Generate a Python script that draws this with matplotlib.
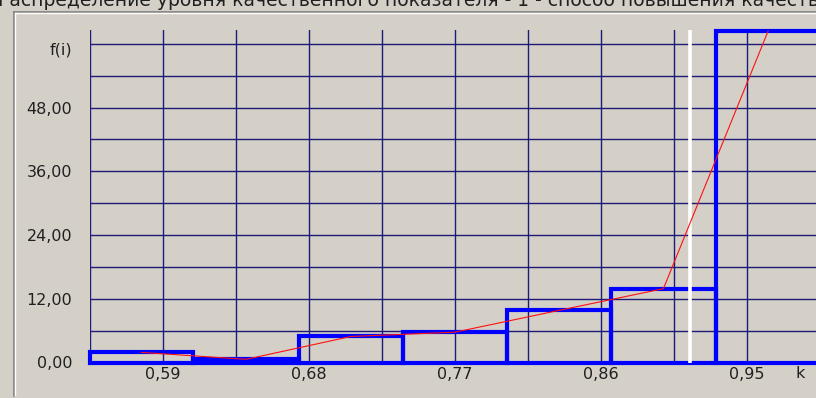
import matplotlib
matplotlib.use("Agg")
import matplotlib.pyplot as plt
from matplotlib.lines import Line2D
import numpy as np

# data
bin_edges = [0.545, 0.609, 0.674, 0.738, 0.802, 0.866, 0.931, 0.995]
freq = [1.9, 0.6, 4.9, 5.7, 9.8, 13.9, 62.4]
x_grid = [0.545, 0.59, 0.635, 0.68, 0.725, 0.77, 0.815, 0.86, 0.905, 0.95]
x_labels = ["", "0,59", "", "0,68", "", "0,77", "", "0,86", "", "0,95"]
y_grid = [0, 6, 12, 18, 24, 30, 36, 42, 48, 54, 60]
y_labels = ["0,00", "", "12,00", "", "24,00", "", "36,00", "", "48,00", "", ""]
k_mark = 0.9147
title = "Распределение уровня качественного показателя - 1 - способ повышения качества"

W, H = 816, 398
bg = "#d4d0c8"
grid_col = "#1c1c78"

fig = plt.figure(figsize=(W / 100, H / 100), dpi=100, facecolor=bg)
# axes in pixel terms: left 89.5, right 816, top 30, bottom 362.5
ax = fig.add_axes([89.5 / W, 1 - 362.5 / H, (816 - 89.5) / W, (362.5 - 30) / H])
ax.set_facecolor(bg)
ax.set_xlim(0.545, 0.9925)
ax.set_ylim(0, 62.6)
for s in ax.spines.values():
    s.set_visible(False)

ax.set_xticks(x_grid)
ax.set_xticklabels(x_labels)
ax.set_yticks(y_grid)
ax.set_yticklabels(y_labels)
ax.tick_params(length=0, labelsize=11.5, labelcolor="#202020")
ax.tick_params(axis="x", pad=3.5)
ax.tick_params(axis="y", pad=12.5)
ax.grid(True, color=grid_col, linewidth=1.0)
ax.set_axisbelow(True)

edges = np.array(bin_edges)
ax.bar(edges[:-1], freq, width=np.diff(edges), align="edge", fill=False,
       edgecolor="#0000ff", linewidth=3.0, clip_on=False, zorder=2)

ax.axvline(k_mark, color="white", linewidth=2.6, zorder=3)

centers = (edges[:-1] + edges[1:]) / 2
ax.plot(centers, freq, color="#ff1010", linewidth=0.8, zorder=4)

fig.text(72 / W, 1 - 50 / H, "f(i)", ha="right", va="center", fontsize=11.5, color="#202020")
fig.text(800 / W, 1 - 374 / H, "k", ha="center", va="center", fontsize=11.5, color="#202020")

# caption sits above the frame and is cut by the top edge, as in the reference
fig.text(-0.002, 1 - 6.5 / H, title, ha="left", va="baseline", fontsize=13.5, color="#202020")

# sunken group-box frame
fig.add_artist(Line2D([14 / W, 1], [1 - 11.5 / H] * 2, color="#808080", lw=1.2, transform=fig.transFigure))
fig.add_artist(Line2D([15.5 / W, 1], [1 - 13 / H] * 2, color="white", lw=1.0, transform=fig.transFigure))
fig.add_artist(Line2D([14 / W] * 2, [1 - 11.5 / H, 1 - 396 / H], color="#808080", lw=1.2, transform=fig.transFigure))
fig.add_artist(Line2D([15.5 / W] * 2, [1 - 13 / H, 1 - 395 / H], color="white", lw=1.0, transform=fig.transFigure))

fig.savefig("out.png", dpi=100, facecolor=bg)
